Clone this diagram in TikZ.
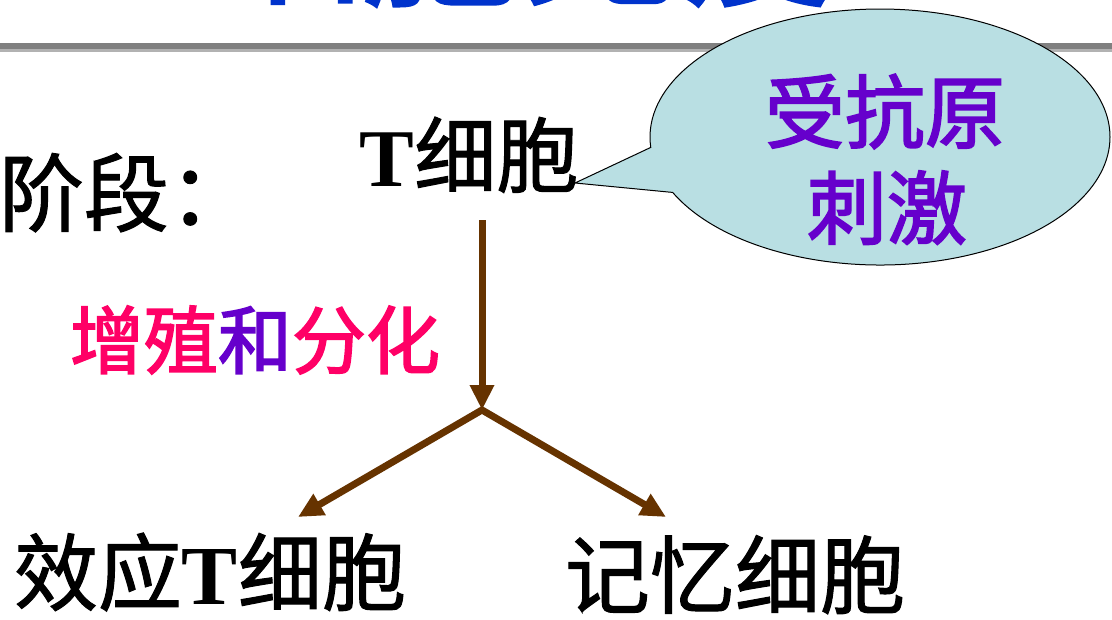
\documentclass[tikz,border=0pt]{standalone}
\usepackage{fontspec}
\usetikzlibrary{arrows.meta,shapes.callouts}
\newfontfamily\cjk[FakeBold=1.2]{Noto Sans CJK SC}
\newfontfamily\cjkc[FakeBold=2.2]{Noto Sans CJK SC}
\newfontfamily\tfont{Liberation Serif}
\definecolor{brownA}{HTML}{663300}
\definecolor{pinkA}{HTML}{FF0066}
\definecolor{purpA}{HTML}{6600CC}
\definecolor{blueA}{HTML}{0033CC}
\definecolor{bubbleA}{HTML}{B9DFE3}
\definecolor{rulegray}{HTML}{808080}
\begin{document}
\begin{tikzpicture}[x=1pt,y=-1pt,
  arr/.style={draw=brownA, line width=7pt, line join=miter},
  tipA/.tip={Triangle[width=23pt,length=25pt]},
  lbl/.style={inner sep=0pt, outer sep=0pt},
  bubblebox/.style={ellipse callout, draw=black, line width=1pt, fill=bubbleA,
    minimum width=460pt, minimum height=256pt, inner sep=0pt},
]
\useasboundingbox (0,0) rectangle (1112,619);
\clip (0,0) rectangle (1112,619);
\fill[white] (0,0) rectangle (1112,619);
% title (cut off at top)
\node[lbl, anchor=base, text=blueA, font=\cjkc\fontsize{158}{160}\selectfont] (title) at (520,-7) {细胞免疫};
% rule under title
\draw[black!30, line width=3.5pt] (0,50.5) -- (1112,50.5);
\draw[rulegray, line width=6pt] (0,46) -- (1112,46);
% callout bubble
\coordinate (tip) at (575,183);
\node[bubblebox, callout absolute pointer={(tip)}, callout pointer arc=21] (bubble) at (880,137) {};
\node[lbl, anchor=base, text=purpA, font=\cjkc\fontsize{80}{82}\selectfont] (stim1) at (885,142) {受抗原};
\node[lbl, anchor=base, text=purpA, font=\cjkc\fontsize{80}{82}\selectfont] (stim2) at (887,238) {刺激};
% texts
\node[lbl, anchor=base west, font=\cjk\fontsize{85}{87}\selectfont] (stage) at (-1,225) {阶段：};
\node[lbl, anchor=base, font=\cjk\fontsize{82}{84}\selectfont] (tcell) at (469,186) {\smash{\tfont\bfseries T}细胞};
\node[lbl, anchor=base west, font=\cjkc\fontsize{74}{76}\selectfont] (prolif) at (70,368)
  {\textcolor{pinkA}{增殖}\textcolor{purpA}{和}\textcolor{pinkA}{分化}};
\node[lbl, anchor=base west, font=\cjk\fontsize{84}{86}\selectfont] (effector) at (14,604) {效应\smash{\tfont\bfseries T}细胞};
\node[lbl, anchor=base west, font=\cjk\fontsize{85}{87}\selectfont] (memory) at (565,607) {记忆细胞};
% arrows
\coordinate (top) at (482,220);
\coordinate (branch) at (482,410);
\coordinate (leftend) at (298,517);
\coordinate (rightend) at (666,517);
\draw[arr, -tipA] (top) -- (branch);
\draw[arr, tipA-tipA] (leftend) -- (branch) -- (rightend);
\end{tikzpicture}
\end{document}
